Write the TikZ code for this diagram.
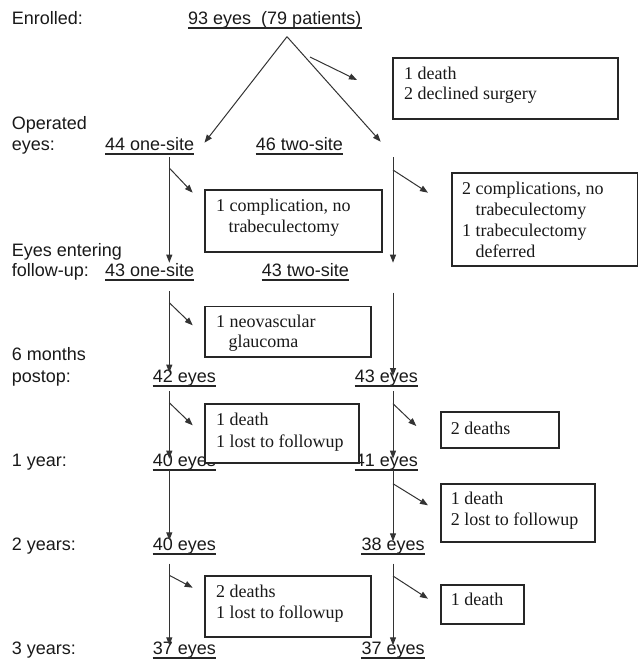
\documentclass[tikz,border=0pt]{standalone}
\usepackage{fontspec}
\setmainfont{Liberation Serif}
\setsansfont{Liberation Sans}
\usetikzlibrary{arrows.meta,calc}
\begin{document}
\begin{tikzpicture}[x=1pt,y=-1pt,
  lab/.style={font=\sffamily\fontsize{18}{21}\selectfont, anchor=base west, inner sep=0pt, text=black!90},
  btx/.style={font=\rmfamily\fontsize{18}{21}\selectfont, anchor=base west, inner sep=0pt, text=black!90},
  box/.style={draw=black!85, line width=1.8pt, fill=white, anchor=north west, inner sep=0pt},
  arr/.style={draw=black!80, line width=1pt, -{Triangle[length=8pt,width=6pt]}},
  ul/.style={draw=black!85, line width=2pt}]
\useasboundingbox (0,0) rectangle (638,663);
\coordinate (cL) at (169.3,0);
\coordinate (cR) at (393,0);

% row labels
\node[lab] (lEnr) at (11.7,24.5) {Enrolled:};
\node[lab] (lOp1) at (11.7,130) {Operated};
\node[lab] (lOp2) at (11.7,150) {eyes:};
\node[lab] (lEe1) at (11.7,256) {Eyes entering};
\node[lab] (lEe2) at (11.7,276) {follow-up:};
\node[lab] (l6m1) at (11.7,360.3) {6 months};
\node[lab] (l6m2) at (11.7,382.5) {postop:};
\node[lab] (l1y) at (11.7,466) {1 year:};
\node[lab] (l2y) at (11.7,550.3) {2 years:};
\node[lab] (l3y) at (11.7,654.7) {3 years:};

% counts
\node[lab] (n93) at (188,24.5) {93 eyes\ \ (79 patients)};
\node[lab] (n44) at (105,150) {44 one-site};
\node[lab] (n46) at (255.7,150) {46 two-site};
\node[lab] (n43a) at (105,276) {43 one-site};
\node[lab] (n43b) at (261.7,276) {43 two-site};
\node[lab] (n42) at (152.7,382.5) {42 eyes};
\node[lab] (n43c) at (354.7,382.5) {43 eyes};
\node[lab] (n40a) at (152.7,466) {40 eyes};
\node[lab] (n41) at (354.7,466) {41 eyes};
\node[lab] (n40b) at (152.7,550.3) {40 eyes};
\node[lab] (n38) at (361.3,550.3) {38 eyes};
\node[lab] (n37a) at (152.7,654.7) {37 eyes};
\node[lab] (n37b) at (361.3,654.7) {37 eyes};
\foreach \n in {n93,n44,n46,n43a,n43b,n42,n43c,n40a,n41,n40b,n38,n37a,n37b}
  \draw[ul] ($(\n.base west)+(0,3.7)$) -- ($(\n.base east)+(0,3.7)$);

% boxes
\node[box, minimum width=225pt, minimum height=61.3pt] (B1) at (392,57) {};
\node[btx] (t1a) at (404,79.3) {1 death};
\node[btx] (t1b) at (404,100) {2 declined surgery};

\node[box, minimum width=177.3pt, minimum height=61.7pt] (B2) at (204,189.3) {};
\node[btx] (t2a) at (216,211.7) {1 complication, no};
\node[btx] (t2b) at (228.3,232.7) {trabeculectomy};

\node[box, minimum width=185.2pt, minimum height=93.6pt] (B3) at (451.3,171.7) {};
\node[btx] (t3a) at (462,194.5) {2 complications, no};
\node[btx] (t3b) at (475.3,215.5) {trabeculectomy};
\node[btx] (t3c) at (462,236.5) {1 trabeculectomy};
\node[btx] (t3d) at (475.3,257.5) {deferred};

\node[box, minimum width=165.7pt, minimum height=50.5pt] (B4) at (204,305.5) {};
\node[btx] (t4a) at (216,327) {1 neovascular};
\node[btx] (t4b) at (228.3,347.7) {glaucoma};

\node[box, minimum width=154pt, minimum height=58.7pt] (B5) at (204,403.3) {};
\node[btx] (t5a) at (216,425) {1 death};
\node[btx] (t5b) at (216,447) {1 lost to followup};

\node[box, minimum width=118.3pt, minimum height=36pt] (B6) at (439.7,411) {};
\node[btx] (t6a) at (450.7,434.3) {2 deaths};

\node[box, minimum width=154.3pt, minimum height=58.6pt] (B7) at (439.7,482.7) {};
\node[btx] (t7a) at (450.7,504.7) {1 death};
\node[btx] (t7b) at (450.7,525.3) {2 lost to followup};

\node[box, minimum width=165.7pt, minimum height=60.7pt] (B8) at (204,575.3) {};
\node[btx] (t8a) at (216,597) {2 deaths};
\node[btx] (t8b) at (216,618) {1 lost to followup};

\node[box, minimum width=83.3pt, minimum height=38.7pt] (B9) at (439.7,584.3) {};
\node[btx] (t9a) at (450.7,605.3) {1 death};

% split from enrolled
\coordinate (apex) at ($(n93.base west)+(99,12.2)$);
\draw[arr] (apex) -- ($(n44.base east)+(10,-7.3)$);
\draw[arr] (apex) -- ($(n46.base -| cR)+(-12.3,-8.3)$);
\draw[arr] ($(n93.base west)+(122,32.5)$) -- ($(B1.north west)+(-35,23)$);

% vertical flows
\draw[arr] ($(n44.base -| cL)+(0,7)$) -- ($(n43a.base -| cL)+(0,-13.3)$);
\draw[arr] ($(n46.base -| cR)+(0,7.3)$) -- ($(n43b.base -| cR)+(0,-13.3)$);
\draw[arr] ($(n43a.base -| cL)+(0,15)$) -- ($(n42.base -| cL)+(0,-9.8)$);
\draw[arr] ($(n43b.base -| cR)+(0,16.7)$) -- ($(n43c.base -| cR)+(0,-6.5)$);
\draw[arr] ($(n42.base -| cL)+(0,8.5)$) -- ($(n40a.base -| cL)+(0,-7.3)$);
\draw[arr] ($(n43c.base -| cR)+(0,8.5)$) -- ($(n41.base -| cR)+(0,-7.3)$);
\draw[arr] ($(n40a.base -| cL)+(0,4.3)$) -- ($(n40b.base -| cL)+(0,-10)$);
\draw[arr] ($(n41.base -| cR)+(0,4)$) -- ($(n38.base -| cR)+(0,-9)$);
\draw[arr] ($(n40b.base -| cL)+(0,13.4)$) -- ($(n37a.base -| cL)+(0,-9.4)$);
\draw[arr] ($(n38.base -| cR)+(0,13.4)$) -- ($(n37b.base -| cR)+(0,-9.4)$);

% side exits
\draw[arr] ($(n44.base -| cL)+(0,18)$) -- ($(B2.north west)+(-11.3,3.4)$);
\draw[arr] ($(n46.base -| cR)+(0,20)$) -- ($(B3.north west)+(-23.3,21)$);
\draw[arr] ($(n43a.base -| cL)+(0,26.7)$) -- ($(B4.north west)+(-11.3,19.8)$);
\draw[arr] ($(n42.base -| cL)+(0,20.2)$) -- ($(B5.north west)+(-11.3,22)$);
\draw[arr] ($(n43c.base -| cR)+(0,21.2)$) -- ($(B6.north west)+(-23.4,15)$);
\draw[arr] ($(n41.base -| cR)+(0,17.7)$) -- ($(B7.north west)+(-11.7,22.6)$);
\draw[arr] ($(n40b.base -| cL)+(0,25)$) -- ($(B8.north west)+(-11.3,12.4)$);
\draw[arr] ($(n38.base -| cR)+(0,25.7)$) -- ($(B9.north west)+(-11.7,14.4)$);
\end{tikzpicture}
\end{document}
